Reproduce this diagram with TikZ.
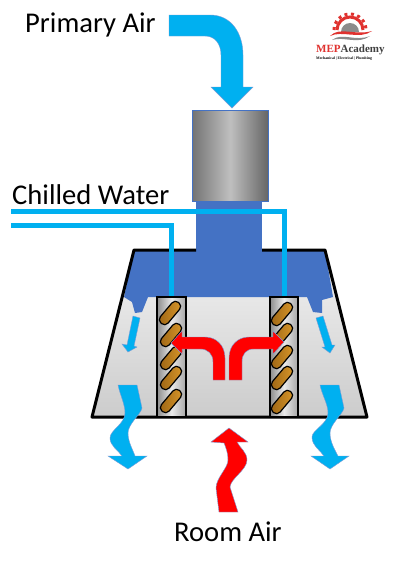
\documentclass[tikz,border=0pt]{standalone}
\usepackage{fontspec}
\setmainfont{Carlito}
\newfontfamily\logofont{Liberation Serif}
\definecolor{airblue}{HTML}{00B0F0}
\definecolor{plenumblue}{HTML}{4472C4}
\definecolor{logored}{HTML}{E0322F}
\definecolor{logogrey}{HTML}{8C8C8C}
\definecolor{tubedark}{HTML}{9C6414}
\definecolor{tubelight}{HTML}{D9982A}
\begin{document}
\begin{tikzpicture}[x=1pt,y=-1pt,font=\fontsize{28.6}{32}\selectfont,
	airarrow/.style={fill=airblue,draw=plenumblue!70,line width=0.4},
	roomarrow/.style={fill=red,draw=plenumblue!70,line width=0.4},
	pipe/.style={draw=airblue,line width=5,line join=miter},
	coilbox/.style={draw=black,line width=2,left color=black!45,right color=black!35,middle color=black!8},
	tube/.style={draw=black,line width=1.2,rounded corners=4.5,minimum width=27,minimum height=10,inner sep=0,rotate=50,left color=tubedark,right color=tubelight}]
	\useasboundingbox (0,0) rectangle (400,563);
	\fill[white] (0,0) rectangle (400,563);
	\node[anchor=west,inner sep=0] (primary) at (25,25) {Primary Air};
	\node[anchor=west,inner sep=0] (chilled) at (12,195) {Chilled Water};
	\node[anchor=west,inner sep=0] (room) at (174,532) {Room Air};
	\draw[airarrow] (169,15)--(210,15) .. controls (232,15) and (243,34) .. (243,55)--(243,87)--(253,87)--(232,108)--(211,87)--(221,87)--(221,55) .. controls (221,44) and (215,36) .. (205,36)--(169,36)--cycle;
	\fill[top color=black!5,bottom color=black!20] (134,250)--(325,250)--(367,417)--(92,417)--cycle;
	\fill[plenumblue] (196,201) rectangle (262,252);
	\fill[plenumblue] (134,250)--(325,250)--(333,297)--(322,300)--(322,313)--(313,312)--(307,297)--(148,297)--(142,312)--(135,313)--(132,302)--(124,297)--cycle;
	\draw[black,line width=3,line join=round] (196,250)--(134,250)--(92,417)--(367,417)--(325,250)--(262,250);
	\draw[draw=plenumblue,line width=0.6,left color=black!55,right color=black!60,middle color=black!25] (192,110) rectangle (268,201);
	\draw[pipe] (11,211)--(284,211)--(284,297);
	\draw[pipe] (11,225.5)--(171,225.5)--(171,297);
	\draw[coilbox] (157,297) rectangle (186,417);
	\draw[coilbox] (270,297) rectangle (298,417);
	\node[tube] (tubeA) at (170,313) {};
	\node[tube] (tubeB) at (171,335) {};
	\node[tube] (tubeC) at (171,358) {};
	\node[tube] (tubeD) at (171,378) {};
	\node[tube] (tubeE) at (171,401) {};
	\node[tube] (tubeF) at (282,314) {};
	\node[tube] (tubeG) at (282,335) {};
	\node[tube] (tubeH) at (282,357) {};
	\node[tube] (tubeI) at (282,378) {};
	\node[tube] (tubeJ) at (282,402) {};
	\draw[roomarrow] (225,380)--(225,358) .. controls (225,345) and (216,337) .. (205,337)--(182,337)--(182,331)--(171,343)--(182,354)--(182,349)--(200,349) .. controls (208,349) and (213,354) .. (213,362)--(213,380)--cycle;
	\draw[roomarrow] (229,380)--(229,358) .. controls (229,345) and (238,337) .. (249,337)--(273,337)--(273,331)--(284,342)--(273,354)--(273,349)--(254,349) .. controls (246,349) and (242,354) .. (242,362)--(242,380)--cycle;
	\draw[airarrow] (133,316)--(140,318)--(134,346)--(137,347)--(128,352)--(122,344)--(127,345)--cycle;
	\draw[airarrow] (316,318)--(323,316)--(332,345)--(335,345)--(330,353)--(322,347)--(325,347)--cycle;
	\draw[airarrow] (118,385)--(137,385)--(142,408) .. controls (141,414) and (128,424) .. (128,433) .. controls (128,442) and (133,450) .. (135,456)--(147,456)--(128,469)--(108,456)--(122,456) .. controls (118,450) and (110,446) .. (110,438) .. controls (110,430) and (125,424) .. (125,413) .. controls (125,404) and (120,395) .. (118,385)--cycle;
	\draw[airarrow] (320,385)--(339,385)--(344,408) .. controls (343,414) and (330,424) .. (330,433) .. controls (330,442) and (335,450) .. (338,456)--(349,456)--(330,469)--(311,456)--(324,456) .. controls (320,450) and (312,446) .. (312,437) .. controls (312,430) and (328,424) .. (328,413) .. controls (328,404) and (322,395) .. (320,385)--cycle;
	\draw[roomarrow] (219,512)--(238,512)--(230,487) .. controls (231,478) and (247,470) .. (247,460) .. controls (247,452) and (240,448) .. (237,442)--(248,442)--(229,428)--(211,442)--(224,443) .. controls (226,448) and (228,453) .. (228,460) .. controls (228,468) and (216,478) .. (216,488)--cycle;
	\draw[logored,line width=3] (337,30) arc (180:360:13);
	\draw[logored,line width=3,dash pattern=on 3 off 3.5] (334,30) arc (180:360:16);
	\fill[logogrey] (341,32) arc (180:360:9)--cycle;
	\fill[logored] (330,36) .. controls (340,26) and (355,36) .. (372,31) .. controls (360,40) and (342,30) .. (330,36)--cycle;
	\fill[logogrey] (332,40) .. controls (342,32) and (355,42) .. (370,36) .. controls (358,45) and (344,36) .. (332,40)--cycle;
	\node[anchor=base west,inner sep=0,font=\logofont\fontsize{11}{12}\selectfont\bfseries] (logo) at (316,52) {\textcolor{logored}{MEP}\textcolor{black!75}{Academy}};
	\node[anchor=base west,inner sep=0,font=\logofont\fontsize{3.8}{4}\selectfont\bfseries] (trades) at (316,59) {Mechanical | Electrical | Plumbing};
\end{tikzpicture}
\end{document}
